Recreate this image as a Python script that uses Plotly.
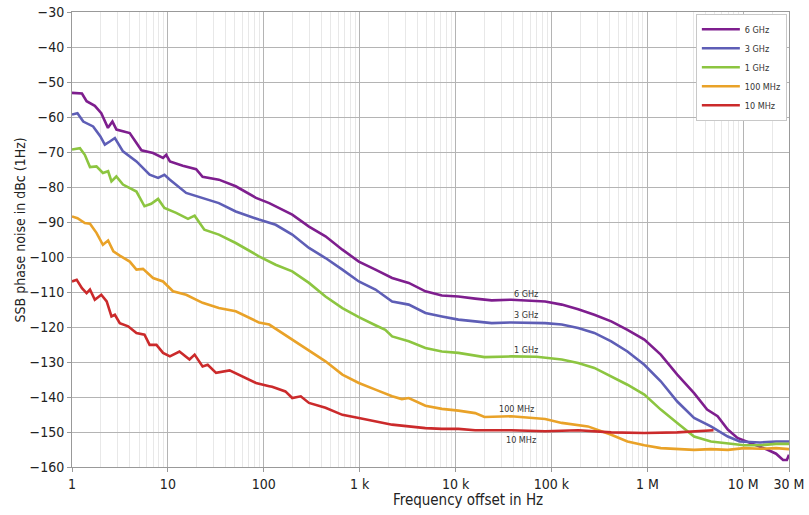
import plotly.graph_objects as go
import numpy as np

# ---- data ----
f_6g = [1, 1.27, 1.42, 1.73, 2.02, 2.37, 2.64, 2.91, 4.0, 5.3, 7.0, 8.9, 9.6, 10.5, 14.3, 19.7, 23, 34, 51, 83,
        114, 133, 198, 296, 440, 660, 980, 1460, 2180, 3250, 4850, 7200, 10700, 16000, 23800, 38000, 86000,
        128000, 190000, 280000, 420000, 620000, 930000, 1.38e6, 2.05e6, 3.07e6, 4.2e6, 5.4e6, 6.9e6, 8.7e6,
        1.2e7, 1.77e7, 2.2e7, 2.6e7, 2.85e7, 3e7]
v_6g = [-53.1, -53.3, -55.5, -56.8, -58.9, -63.1, -61.3, -63.6, -64.6, -69.5, -70.3, -71.7, -70.8, -72.7, -73.9,
        -74.9, -77.1, -77.9, -79.8, -83.1, -84.6, -85.5, -87.9, -91.3, -94.1, -97.9, -101.3, -103.6, -106.0,
        -107.4, -109.8, -111.0, -111.3, -111.9, -112.4, -112.2, -112.7, -113.6, -114.9, -116.5, -118.4, -120.8,
        -123.6, -127.9, -133.6, -138.9, -143.6, -145.5, -149.3, -151.7, -153.1, -155.0, -156.2, -158.0, -158.0,
        -156.5]

f_3g = [1, 1.14, 1.31, 1.66, 1.97, 2.2, 2.48, 2.8, 3.4, 4.7, 6.45, 7.9, 9.2, 10.5, 15.5, 23, 34, 51, 70, 89,
        133, 198, 296, 440, 660, 980, 1460, 2180, 3250, 4850, 7200, 10700, 16000, 23800, 38000, 86000, 128000,
        190000, 280000, 420000, 620000, 930000, 1.38e6, 2.05e6, 3.07e6, 4.6e6, 6.9e6, 9.2e6, 1.5e7, 2.2e7, 3e7]
v_3g = [-59.3, -58.9, -61.3, -62.7, -65.5, -67.9, -67.0, -66.0, -69.8, -72.7, -76.5, -77.4, -76.5, -77.9, -81.7,
        -83.1, -84.6, -87.0, -88.4, -89.3, -90.8, -93.6, -97.4, -100.3, -103.6, -107.0, -109.3, -112.7, -113.6,
        -116.0, -117.0, -117.9, -118.4, -118.9, -118.7, -118.9, -119.3, -120.3, -121.7, -124.1, -127.0, -130.8,
        -135.5, -141.3, -146.0, -148.4, -151.3, -152.7, -153.0, -152.7, -152.7]

f_1g = [1, 1.21, 1.36, 1.54, 1.8, 2.1, 2.38, 2.58, 2.9, 3.4, 4.7, 5.7, 6.7, 7.9, 9.2, 12.2, 16.2, 19, 24, 34,
        51, 76, 89, 133, 198, 296, 440, 660, 980, 1460, 1850, 2180, 3250, 4850, 7200, 10700, 20000, 38000,
        70000, 128000, 190000, 280000, 420000, 620000, 930000, 1.38e6, 2.05e6, 3.07e6, 4.6e6, 6.9e6, 1.02e7,
        1.5e7, 2.2e7, 3e7]
v_1g = [-69.3, -68.9, -70.8, -74.3, -74.1, -76.0, -75.5, -78.4, -77.0, -79.3, -81.3, -85.5, -84.8, -83.4, -86.0,
        -87.4, -89.1, -88.2, -92.2, -93.6, -96.0, -98.9, -99.8, -102.2, -104.1, -107.4, -111.3, -114.6, -117.2,
        -119.5, -120.8, -122.7, -124.1, -126.0, -127.0, -127.4, -128.6, -128.4, -128.5, -129.3, -130.3, -131.7,
        -134.1, -136.5, -139.3, -143.6, -147.4, -151.3, -152.7, -153.3, -153.8, -153.8, -153.4, -153.4]

f_100m = [1, 1.14, 1.36, 1.54, 1.8, 2.1, 2.38, 2.7, 3.15, 4.0, 4.7, 5.5, 7.0, 8.9, 11.3, 15.5, 23, 34, 51, 76,
          89, 114, 198, 296, 440, 660, 980, 1460, 2180, 2750, 3250, 4850, 7200, 10700, 16000, 20000, 38000,
          86000, 128000, 240000, 420000, 620000, 930000, 1.38e6, 2.05e6, 3.07e6, 4.6e6, 6.9e6, 1.02e7, 1.5e7,
          2.2e7, 3e7]
v_100m = [-88.4, -88.9, -90.3, -90.5, -93.1, -96.5, -95.3, -98.4, -99.6, -101.3, -103.6, -103.4, -106.0, -107.0,
          -109.8, -110.8, -113.1, -114.6, -115.5, -117.9, -118.7, -119.3, -123.6, -126.5, -129.8, -133.6, -136.0,
          -137.9, -139.8, -140.6, -140.3, -142.5, -143.4, -143.9, -144.6, -145.7, -145.5, -146.3, -147.4, -148.4,
          -150.8, -152.7, -153.8, -154.6, -154.8, -155.1, -154.9, -155.1, -154.6, -154.8, -154.6, -154.9]

f_10m = [1, 1.12, 1.27, 1.42, 1.54, 1.73, 2.02, 2.3, 2.58, 2.8, 3.15, 3.85, 4.7, 5.7, 6.45, 7.6, 8.9, 10.5, 13.2,
         16.8, 19, 23, 26, 31.8, 44, 60, 83, 114, 122, 168, 198, 243, 296, 440, 660, 980, 1460, 2180, 3250, 4850,
         7200, 10700, 16000, 23800, 38000, 86000, 190000, 420000, 930000, 2.05e6, 3.07e6, 4.9e6]
v_10m = [-107.0, -106.5, -108.9, -110.3, -109.3, -112.2, -110.8, -112.7, -117.0, -116.5, -118.9, -119.8, -121.7,
         -122.2, -125.1, -125.1, -127.4, -128.4, -127.0, -129.3, -127.9, -131.3, -130.8, -133.1, -132.4, -134.1,
         -136.0, -136.9, -137.1, -138.4, -140.3, -139.8, -141.7, -143.1, -145.1, -146.0, -147.0, -147.9, -148.4,
         -148.9, -149.1, -149.1, -149.5, -149.5, -149.5, -149.8, -149.5, -150.1, -150.3, -150.1, -149.8, -149.5]

series_names = ["6 GHz", "3 GHz", "1 GHz", "100 MHz", "10 MHz"]
series_f = [f_6g, f_3g, f_1g, f_100m, f_10m]
series_v = [v_6g, v_3g, v_1g, v_100m, v_10m]
colors = ["#7e1e8e", "#5e5eb6", "#8cc540", "#e9a228", "#cb2a2b"]

label_f = [54700, 54700, 54700, 43000, 48600]
label_v = [-110.5, -116.5, -126.5, -143.3, -152.2]

x_tickvals = [1, 10, 100, 1e3, 1e4, 1e5, 1e6, 1e7, 3e7]
x_ticktext = ["1", "10", "100", "1 k", "10 k", "100 k", "1 M", "10 M", "30 M"]
y_tickvals = list(range(-160, -29, 10))

x_title = "Frequency offset in Hz"
y_title = "SSB phase noise in dBc (1Hz)"

minor_vals = [m * 10 ** d for d in range(0, 8) for m in range(2, 10) if m * 10 ** d < 3e7]

FONT = "DejaVu Sans Condensed, Liberation Sans Narrow, Roboto, sans-serif"

fig = go.Figure()
for name, fx, vy, c in zip(series_names, series_f, series_v, colors):
    fig.add_trace(go.Scatter(x=fx, y=vy, mode="lines", name=name,
                             line=dict(color=c, width=2.6)))

for name, lx, ly in zip(series_names, label_f, label_v):
    fig.add_annotation(x=np.log10(lx), y=ly, text=name, showarrow=False,
                       font=dict(size=9, color="#333333", family=FONT))

# axis titles as annotations (placed like the reference)
fig.add_annotation(xref="paper", yref="paper", x=0.552, y=0, yshift=-33, text=x_title,
                   showarrow=False, xanchor="center", yanchor="middle",
                   font=dict(size=15, family=FONT, color="#222222"))
fig.add_annotation(xref="paper", yref="paper", x=0, y=0.52, xshift=-52, text=y_title,
                   showarrow=False, textangle=-90, xanchor="center", yanchor="middle",
                   font=dict(size=14, family=FONT, color="#222222"))

fig.update_layout(
    width=809, height=515,
    margin=dict(l=72, r=20, t=12, b=48),
    paper_bgcolor="white", plot_bgcolor="white",
    font=dict(family=FONT, color="#222222"),
    showlegend=True,
    legend=dict(x=0.997, y=0.996, xanchor="right", yanchor="top",
                bordercolor="#c8c8c8", borderwidth=1, bgcolor="white",
                font=dict(size=9, family=FONT, color="#333333"),
                itemwidth=38, traceorder="normal"),
    xaxis=dict(type="log", range=[0, np.log10(3e7)], automargin=False,
               tickvals=x_tickvals, ticktext=x_ticktext,
               tickfont=dict(size=14, family=FONT, color="#222222"),
               showgrid=True, gridcolor="#b4b4b4", gridwidth=1,
               showline=True, linecolor="#999999", linewidth=1, mirror=True,
               ticks="outside", ticklen=4, tickcolor="#999999",
               ticklabeloverflow="allow",
               minor=dict(tickvals=minor_vals, showgrid=True, gridcolor="#e8e8e8", gridwidth=1,
                          ticks=""),
               zeroline=False),
    yaxis=dict(range=[-160, -30], tickvals=y_tickvals, automargin=False,
               tickfont=dict(size=14, family=FONT, color="#222222"),
               showgrid=True, gridcolor="#b4b4b4", gridwidth=1,
               showline=True, linecolor="#999999", linewidth=1, mirror=True,
               ticks="outside", ticklen=4, tickcolor="#999999",
               ticklabeloverflow="allow",
               zeroline=False),
)

fig.write_html("out.html", config={"displayModeBar": False},
               post_script="document.body.style.margin='0';")
